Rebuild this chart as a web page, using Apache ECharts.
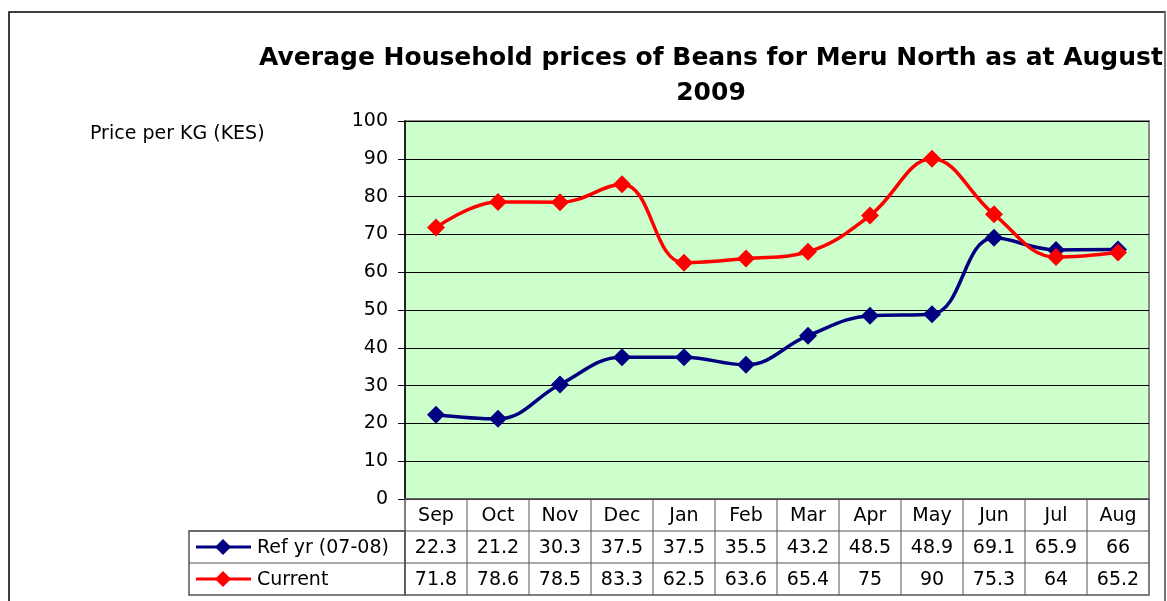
<!DOCTYPE html>
<html>
<head>
<meta charset="utf-8">
<script src="https://cdn.jsdelivr.net/npm/echarts@6/dist/echarts.min.js"></script>
<style>
  html, body { margin: 0; padding: 0; background: #fff; }
  #chart { width: 1167px; height: 601px; }
</style>
</head>
<body>
<div id="chart"></div>
<script>
var months = ['Sep', 'Oct', 'Nov', 'Dec', 'Jan', 'Feb', 'Mar', 'Apr', 'May', 'Jun', 'Jul', 'Aug']
var refYr = [22.3, 21.2, 30.3, 37.5, 37.5, 35.5, 43.2, 48.5, 48.9, 69.1, 65.9, 66]
var current = [71.8, 78.6, 78.5, 83.3, 62.5, 63.6, 65.4, 75, 90, 75.3, 64, 65.2]
var seriesNames = ['Ref yr (07-08)', 'Current']
var seriesColors = ['#000080', '#ff0000']

// plot area layout
var gLeft = 405, gTop = 121, gWidth = 744, gHeight = 378
var rowH = 32, legendLeft = 189
var colW = gWidth / months.length
var font = '"DejaVu Sans", Verdana, sans-serif'

var chart = echarts.init(document.getElementById('chart'))

function tableGraphics() {
    var items = []
    var top = gTop + gHeight
    // cell borders
    items.push({type: 'rect', shape: {x: gLeft, y: top, width: gWidth, height: rowH * 3},
        style: {fill: 'none', stroke: '#555', lineWidth: 1.5}, z: 10})
    items.push({type: 'rect', shape: {x: legendLeft, y: top + rowH, width: gLeft - legendLeft, height: rowH * 2},
        style: {fill: 'none', stroke: '#555', lineWidth: 1.5}, z: 10})
    for (var i = 1; i < months.length; i++) {
        var x = gLeft + colW * i
        items.push({type: 'line', shape: {x1: x, y1: top, x2: x, y2: top + rowH * 3},
            style: {stroke: '#555', lineWidth: 1}, z: 10})
    }
    for (var r = 1; r < 3; r++) {
        items.push({type: 'line', shape: {x1: legendLeft, y1: top + rowH * r, x2: gLeft + gWidth, y2: top + rowH * r},
            style: {stroke: '#555', lineWidth: 1}, z: 10})
    }
    // header and values
    var rows = [months, refYr, current]
    rows.forEach(function (row, r) {
        row.forEach(function (v, i) {
            items.push({type: 'text', x: gLeft + colW * (i + 0.5), y: top + rowH * (r + 0.5) + 1,
                style: {text: String(v), fill: '#000', font: '19px ' + font, align: 'center', verticalAlign: 'middle'}, z: 11})
        })
    })
    // legend keys
    seriesNames.forEach(function (name, s) {
        var cy = top + rowH * (s + 1.5)
        items.push({type: 'line', shape: {x1: 196, y1: cy, x2: 251, y2: cy},
            style: {stroke: seriesColors[s], lineWidth: 3}, z: 11})
        items.push({type: 'polygon', shape: {points: [[223, cy - 8], [231, cy], [223, cy + 8], [215, cy]]},
            style: {fill: seriesColors[s]}, z: 11})
        items.push({type: 'text', x: 257, y: cy + 1,
            style: {text: name, fill: '#000', font: '19px ' + font, verticalAlign: 'middle'}, z: 11})
    })
    return items
}

var option = {
    animation: false,
    backgroundColor: '#fff',
    grid: {left: gLeft, top: gTop, width: gWidth, height: gHeight, show: true,
        backgroundColor: '#ccffcc', borderColor: '#888', borderWidth: 2},
    xAxis: {
        type: 'category',
        data: months,
        boundaryGap: true,
        axisLine: {show: false},
        axisTick: {show: false},
        axisLabel: {show: false}
    },
    yAxis: {
        type: 'value',
        min: 0,
        max: 100,
        interval: 10,
        axisLine: {show: true, lineStyle: {color: '#000', width: 1.5}},
        axisTick: {show: true, length: 7, lineStyle: {color: '#000', width: 1}},
        axisLabel: {color: '#000', fontSize: 19, fontFamily: font, margin: 17},
        splitLine: {lineStyle: {color: '#000', width: 1}}
    },
    series: [{
        name: seriesNames[0],
        type: 'line',
        data: refYr,
        smooth: 0.4,
        symbol: 'diamond',
        symbolSize: 18,
        itemStyle: {color: seriesColors[0]},
        lineStyle: {color: seriesColors[0], width: 3.5},
        z: 3
    }, {
        name: seriesNames[1],
        type: 'line',
        data: current,
        smooth: 0.4,
        symbol: 'diamond',
        symbolSize: 18,
        itemStyle: {color: seriesColors[1]},
        lineStyle: {color: seriesColors[1], width: 3.5},
        z: 4
    }],
    graphic: [
        {type: 'rect', shape: {x: 9, y: 12, width: 1156, height: 600},
            style: {fill: 'none', stroke: '#000', lineWidth: 1.5}, z: 0},
        {type: 'line', shape: {x1: 1165, y1: 12, x2: 1165, y2: 601},
            style: {stroke: '#888', lineWidth: 1.5}, z: 1},
        {type: 'text', x: 711, y: 58,
            style: {text: 'Average Household prices of Beans for Meru North as at August', fill: '#000',
                font: 'bold 25px "DejaVu Sans", sans-serif', align: 'center', verticalAlign: 'middle'}},
        {type: 'text', x: 711, y: 93,
            style: {text: '2009', fill: '#000',
                font: 'bold 25px "DejaVu Sans", sans-serif', align: 'center', verticalAlign: 'middle'}},
        {type: 'text', x: 90, y: 134,
            style: {text: 'Price per KG (KES)', fill: '#000', font: '19px ' + font, verticalAlign: 'middle'}}
    ].concat(tableGraphics())
}

chart.setOption(option)
</script>
</body>
</html>
